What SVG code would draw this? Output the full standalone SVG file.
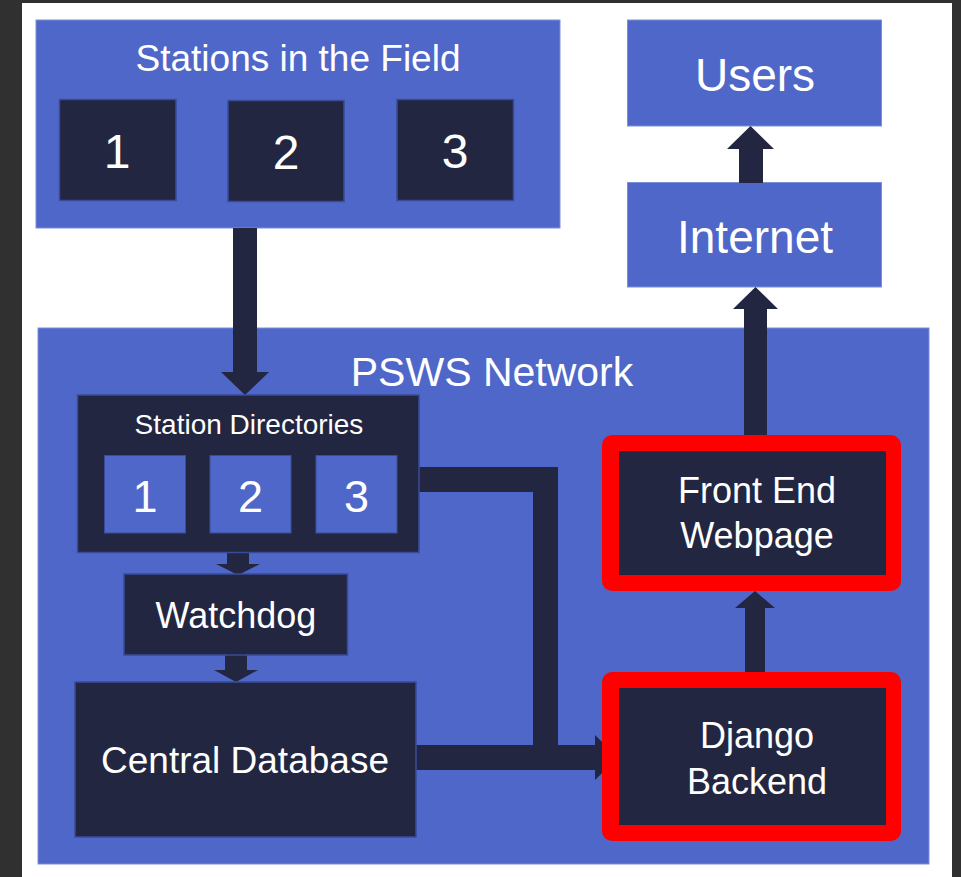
<svg xmlns="http://www.w3.org/2000/svg" width="961" height="877" viewBox="0 0 961 877">
<style>
.blue{fill:#4F67C8;stroke:#7D8FDA;stroke-width:1}
.dark{fill:#222641;stroke:#3A4C99;stroke-width:1.5}
.dblue{fill:#4F67C8;stroke:#3A4C99;stroke-width:1}
.red{fill:#FF0000}
.con{fill:#222641}
text{font-family:"Liberation Sans",Arial,sans-serif;fill:#FFFFFF;text-anchor:middle}
</style>
<rect x="0" y="0" width="961" height="877" fill="#FFFFFF"/>
<rect x="0" y="0" width="22" height="877" fill="#303030"/>
<rect x="0" y="0" width="961" height="3" fill="#303030"/>
<rect x="952" y="0" width="9" height="877" fill="#303030"/>

<g id="stations-field">
<rect class="blue" x="36" y="20" width="524" height="208"/>
<text x="298" y="71" font-size="37">Stations in the Field</text>
</g>
<g id="station-1"><rect class="dark" x="59.5" y="99.5" width="116.5" height="101"/><text x="117" y="168" font-size="48">1</text></g>
<g id="station-2"><rect class="dark" x="228" y="100.5" width="116" height="101"/><text x="286" y="169" font-size="48">2</text></g>
<g id="station-3"><rect class="dark" x="397" y="99.5" width="116.5" height="101"/><text x="455" y="168" font-size="48">3</text></g>

<g id="users"><rect class="blue" x="627.5" y="20" width="254" height="106"/><text x="755" y="91" font-size="46">Users</text></g>
<g id="internet"><rect class="blue" x="627.5" y="182.5" width="254" height="104.5"/><text x="755" y="253" font-size="46">Internet</text></g>

<g id="psws-network">
<rect class="blue" x="38" y="328" width="891" height="536"/>
<text x="492" y="386" font-size="41">PSWS Network</text>
</g>

<g id="connectors">
<path class="con" d="M233 228H257V372H269L245 395L221 372H233Z"/>
<path class="con" d="M227 552H249V564H260L238 575L216 564H227Z"/>
<path class="con" d="M225 655H247V670H258L236 682L214 670H225Z"/>
<path class="con" d="M419 467H558V492H419Z"/>
<path class="con" d="M533 467H558V770H533Z"/>
<path class="con" d="M416 745H595V735L618 757.5L595 780V770H416Z"/>
<path class="con" d="M745 672H765V608H775L755 591L735 608H745Z"/>
<path class="con" d="M744 435H767V309H778L755.5 287L733 309H744Z"/>
<path class="con" d="M739 183H763V149H774L750.5 126L727 149H739Z"/>
</g>

<g id="station-directories">
<rect class="dark" x="77.5" y="395" width="341.5" height="157.5"/>
<text x="249" y="434" font-size="28">Station Directories</text>
</g>
<g id="dir-1"><rect class="dblue" x="104.5" y="455.5" width="81" height="77.5"/><text x="145" y="512" font-size="45">1</text></g>
<g id="dir-2"><rect class="dblue" x="210" y="455.5" width="81" height="77.5"/><text x="250.5" y="512" font-size="45">2</text></g>
<g id="dir-3"><rect class="dblue" x="316" y="455.5" width="81" height="77.5"/><text x="356.5" y="512" font-size="45">3</text></g>

<g id="watchdog"><rect class="dark" x="124" y="574" width="223.5" height="81"/><text x="236" y="628" font-size="36">Watchdog</text></g>
<g id="central-database"><rect class="dark" x="75" y="682" width="341" height="155"/><text x="245" y="773" font-size="37">Central Database</text></g>

<g id="front-end">
<rect class="red" x="602" y="435" width="299" height="156" rx="10"/>
<rect fill="#222641" x="619" y="451" width="267" height="124"/>
<text x="757" y="503" font-size="36">Front End</text>
<text x="757" y="548" font-size="36">Webpage</text>
</g>
<g id="django-backend">
<rect class="red" x="602" y="672" width="299" height="169" rx="10"/>
<rect fill="#222641" x="619" y="688" width="267" height="137"/>
<text x="757" y="748" font-size="36">Django</text>
<text x="757" y="794" font-size="36">Backend</text>
</g>
</svg>
